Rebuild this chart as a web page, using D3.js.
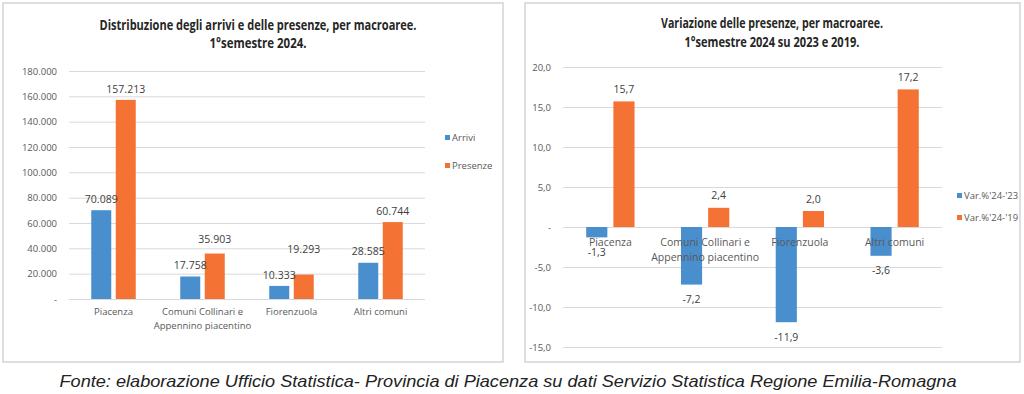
<!DOCTYPE html>
<html>
<head>
<meta charset="utf-8">
<script src="https://cdn.jsdelivr.net/npm/d3@7"></script>
<style>
  body { margin: 0; background: #fff; }
  svg { display: block; }
  .title { font-family: "Open Sans", sans-serif; font-weight: bold; font-size: 14px; fill: #262626; }
  .tick text, .cat, .leg { font-family: "Open Sans", sans-serif; font-size: 9.5px; fill: #595959; }
  .val { font-family: "Open Sans", sans-serif; font-size: 10.5px; fill: #404040; }
  .grid line { stroke: #d9d9d9; }
  .foot { font-family: "Liberation Sans", Arial, sans-serif; font-style: italic; font-size: 17px; fill: #222; }
</style>
</head>
<body>
<svg id="chart" width="1024" height="394"></svg>
<script>
// categories shared by both charts
var categories = [["Piacenza"], ["Comuni Collinari e", "Appennino piacentino"], ["Fiorenzuola"], ["Altri comuni"]];
var catKeys = ["Piacenza", "Comuni", "Fiorenzuola", "Altri"];

// left chart: arrivi / presenze 1° semestre 2024
var arrivi = [70089, 17758, 10333, 28585];
var presenze = [157213, 35903, 19293, 60744];
var leftTicks = [0, 20000, 40000, 60000, 80000, 100000, 120000, 140000, 160000, 180000];

// right chart: variazioni %
var var2423 = [-1.3, -7.2, -11.9, -3.6];
var var2419 = [15.7, 2.4, 2.0, 17.2];
var rightTicks = [-15, -10, -5, 0, 5, 10, 15, 20];

var blue = "#4a8fcd", orange = "#f47334";
var svg = d3.select("#chart");

var itNum = function (v) {
  if (v === 0) return "-";
  return d3.format(",")(v).replace(/,/g, ".");
};
var itDec = function (v) {
  if (v === 0) return "-";
  return d3.format(".1f")(v).replace(".", ",").replace("\u2212", "-");
};

// panel frames
svg.append("rect").attr("x", 3).attr("y", 3).attr("width", 500).attr("height", 359)
  .attr("fill", "#fff").attr("stroke", "#d4d4d4").attr("stroke-width", 1.5);
svg.append("rect").attr("x", 525).attr("y", 3).attr("width", 495).attr("height", 359)
  .attr("fill", "#fff").attr("stroke", "#d4d4d4").attr("stroke-width", 1.5);

// ---------- left chart ----------
var gl = svg.append("g");
var yL = d3.scaleLinear().domain([0, 180000]).range([299, 71]);
var x0L = d3.scaleBand().domain(catKeys).range([69, 425]).paddingInner(0.5).paddingOuter(0.25);
var x1L = d3.scaleBand().domain(["a", "p"]).range([0, x0L.bandwidth()]).paddingInner(0.184);

gl.append("g").attr("class", "grid")
  .attr("transform", "translate(69,0)")
  .call(d3.axisLeft(yL).tickValues(leftTicks).tickSize(-356).tickFormat(itNum))
  .call(function (g) { g.select(".domain").remove(); })
  .call(function (g) { g.selectAll(".tick text").attr("x", -12); });

var leftData = catKeys.map(function (k, i) { return { key: k, a: arrivi[i], p: presenze[i] }; });

var grpL = gl.selectAll(".grpL").data(leftData).enter().append("g")
  .attr("transform", function (d) { return "translate(" + x0L(d.key) + ",0)"; });

grpL.append("rect").attr("x", x1L("a")).attr("width", x1L.bandwidth())
  .attr("y", function (d) { return yL(d.a); })
  .attr("height", function (d) { return yL(0) - yL(d.a); })
  .attr("fill", blue);
grpL.append("rect").attr("x", x1L("p")).attr("width", x1L.bandwidth())
  .attr("y", function (d) { return yL(d.p); })
  .attr("height", function (d) { return yL(0) - yL(d.p); })
  .attr("fill", orange);

// value labels, orange pushed up when it would collide with the blue one
grpL.each(function (d) {
  var g = d3.select(this);
  var ya = yL(d.a) - 11, yp = yL(d.p) - 11;
  if (ya - yp < 26) yp = ya - 26;
  g.append("text").attr("class", "val").attr("text-anchor", "middle")
    .attr("x", x1L("a") + x1L.bandwidth() / 2).attr("y", ya).attr("dy", "0.35em")
    .text(itNum(d.a));
  g.append("text").attr("class", "val").attr("text-anchor", "middle")
    .attr("x", x1L("p") + x1L.bandwidth() / 2).attr("y", yp).attr("dy", "0.35em")
    .text(itNum(d.p));
});

gl.selectAll(".catL").data(categories).enter().append("text")
  .attr("class", "cat").attr("text-anchor", "middle")
  .attr("x", function (d, i) { return x0L(catKeys[i]) + x0L.bandwidth() / 2; })
  .attr("y", 312)
  .each(function (d) {
    var t = d3.select(this);
    d.forEach(function (line, j) {
      t.append("tspan").attr("x", t.attr("x")).attr("dy", j === 0 ? "0.35em" : "14px").text(line);
    });
  });

gl.append("text").attr("class", "title").attr("text-anchor", "middle").attr("x", 258).attr("y", 30)
  .attr("textLength", 317).attr("lengthAdjust", "spacingAndGlyphs")
  .text("Distribuzione degli arrivi e delle presenze, per macroaree.");
gl.append("text").attr("class", "title").attr("text-anchor", "middle").attr("x", 258).attr("y", 48)
  .attr("textLength", 97).attr("lengthAdjust", "spacingAndGlyphs")
  .text("1°semestre 2024.");

var legL = gl.selectAll(".legL").data([["Arrivi", blue], ["Presenze", orange]]).enter().append("g")
  .attr("transform", function (d, i) { return "translate(445," + (138 + i * 28) + ")"; });
legL.append("rect").attr("x", 0).attr("y", -3).attr("width", 5).attr("height", 5).attr("fill", function (d) { return d[1]; });
legL.append("text").attr("class", "leg").attr("x", 7).attr("dy", "0.35em").text(function (d) { return d[0]; });

// ---------- right chart ----------
var gr = svg.append("g");
var yR = d3.scaleLinear().domain([-15, 20]).range([347, 67]);
var x0R = d3.scaleBand().domain(catKeys).range([563, 942]).paddingInner(0.49).paddingOuter(0.245);
var x1R = d3.scaleBand().domain(["v23", "v19"]).range([0, x0R.bandwidth()]).paddingInner(0.222);

gr.append("g").attr("class", "grid")
  .attr("transform", "translate(563,0)")
  .call(d3.axisLeft(yR).tickValues(rightTicks).tickSize(-379).tickFormat(itDec))
  .call(function (g) { g.select(".domain").remove(); })
  .call(function (g) { g.selectAll(".tick text").attr("x", -12); });

var rightData = catKeys.map(function (k, i) { return { key: k, v23: var2423[i], v19: var2419[i] }; });

var grpR = gr.selectAll(".grpR").data(rightData).enter().append("g")
  .attr("transform", function (d) { return "translate(" + x0R(d.key) + ",0)"; });

[["v23", blue], ["v19", orange]].forEach(function (s) {
  grpR.append("rect").attr("x", x1R(s[0])).attr("width", x1R.bandwidth())
    .attr("y", function (d) { return yR(Math.max(0, d[s[0]])); })
    .attr("height", function (d) { return Math.abs(yR(d[s[0]]) - yR(0)); })
    .attr("fill", s[1]);
});

gr.selectAll(".catR").data(categories).enter().append("text")
  .attr("class", "cat").attr("text-anchor", "middle").style("font-size", "10.5px")
  .attr("x", function (d, i) { return x0R(catKeys[i]) + x0R.bandwidth() / 2; })
  .attr("y", 242)
  .each(function (d) {
    var t = d3.select(this);
    d.forEach(function (line, j) {
      t.append("tspan").attr("x", t.attr("x")).attr("dy", j === 0 ? "0.35em" : "15px").text(line);
    });
  });

// value labels drawn after category names, as in the original
[["v23"], ["v19"]].forEach(function (s) {
  grpR.append("text").attr("class", "val").attr("text-anchor", "middle")
    .attr("x", x1R(s[0]) + x1R.bandwidth() / 2)
    .attr("y", function (d) { return d[s[0]] >= 0 ? yR(d[s[0]]) - 12 : yR(d[s[0]]) + 15; })
    .attr("dy", "0.35em")
    .text(function (d) { return itDec(d[s[0]]); });
});

gr.append("text").attr("class", "title").attr("text-anchor", "middle").attr("x", 772).attr("y", 28)
  .attr("textLength", 222).attr("lengthAdjust", "spacingAndGlyphs")
  .text("Variazione delle presenze, per macroaree.");
gr.append("text").attr("class", "title").attr("text-anchor", "middle").attr("x", 772).attr("y", 47)
  .attr("textLength", 175).attr("lengthAdjust", "spacingAndGlyphs")
  .text("1°semestre 2024 su 2023 e 2019.");

var legR = gr.selectAll(".legR").data([["Var.%'24-'23", blue], ["Var.%'24-'19", orange]]).enter().append("g")
  .attr("transform", function (d, i) { return "translate(957," + (196 + i * 22) + ")"; });
legR.append("rect").attr("x", 0).attr("y", -3).attr("width", 5).attr("height", 5).attr("fill", function (d) { return d[1]; });
legR.append("text").attr("class", "leg").attr("x", 7).attr("dy", "0.35em").text(function (d) { return d[0]; });

// footer
svg.append("text").attr("class", "foot").attr("text-anchor", "middle").attr("x", 508).attr("y", 387)
  .attr("textLength", 897).attr("lengthAdjust", "spacingAndGlyphs")
  .text("Fonte: elaborazione Ufficio Statistica- Provincia di Piacenza su dati Servizio Statistica Regione Emilia-Romagna");
</script>
</body>
</html>
